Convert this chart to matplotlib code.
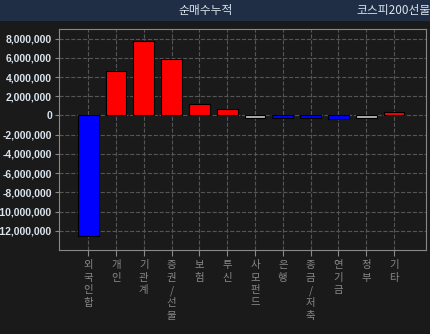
import matplotlib.pyplot as plt
from matplotlib.ticker import FuncFormatter

plt.rcParams['font.family'] = ['Noto Sans CJK KR', 'DejaVu Sans']

labels = ['외국인합', '개인', '기관계', '증권/선물', '보험', '투신',
          '사모펀드', '은행', '종금/저축', '연기금', '정부', '기타']
values = [-12550000, 4600000, 7700000, 5900000, 1150000, 720000,
          -250000, -250000, -250000, -400000, -250000, 350000]
colors = ['#0000ff', '#ff0000', '#ff0000', '#ff0000', '#ff0000', '#ff0000',
          '#b0b0b0', '#0000ff', '#0000ff', '#0000ff', '#b0b0b0', '#ff0000']
yticks = list(range(-12000000, 8000001, 2000000))

bg = '#1a1a1a'
txt = '#dae4ee'

fig = plt.figure(figsize=(4.31, 3.34), dpi=100, facecolor=bg)

# header bar
hdr = fig.add_axes([0, 1 - 21 / 334, 1, 21 / 334])
hdr.set_facecolor('#1f2e44')
hdr.set_xticks([])
hdr.set_yticks([])
for s in hdr.spines.values():
    s.set_visible(False)
hdr.text(0.478, 0.5, '순매수누적', color=txt, fontsize=8.5, ha='center', va='center',
         transform=hdr.transAxes)
hdr.text(0.826, 0.5, '코스피200선물', color=txt, fontsize=8.5, ha='left', va='center',
         transform=hdr.transAxes, clip_on=True)

ax = fig.add_axes([59 / 431, 1 - 250 / 334, 367 / 431, 221 / 334])
ax.set_facecolor(bg)
x = range(len(labels))
ax.bar(x, values, width=0.75, color=colors, edgecolor='black', linewidth=0.8, zorder=3)

ax.set_xlim(-1.05, 12.15)
ax.set_ylim(-14000000, 9000000)
ax.set_yticks(yticks)
ax.yaxis.set_major_formatter(FuncFormatter(lambda v, p: f'{int(v):,}'))
ax.set_xticks(list(x))
ax.set_xticklabels(['\n'.join(l) for l in labels], fontsize=7.5, color=txt,
                   linespacing=1.3, va='top')
ax.tick_params(axis='y', colors='#888888', labelcolor=txt, labelsize=7.5, length=3, pad=2)
ax.tick_params(axis='x', colors='#888888', length=4)
for t in ax.get_yticklabels():
    t.set_fontweight('bold')
    t.set_family(['Liberation Sans'])

ax.grid(True, color='#555555', linestyle='--', linewidth=0.8, zorder=0)
for s in ax.spines.values():
    s.set_color('#888888')

fig.savefig('out.png', dpi=100, facecolor=bg)
